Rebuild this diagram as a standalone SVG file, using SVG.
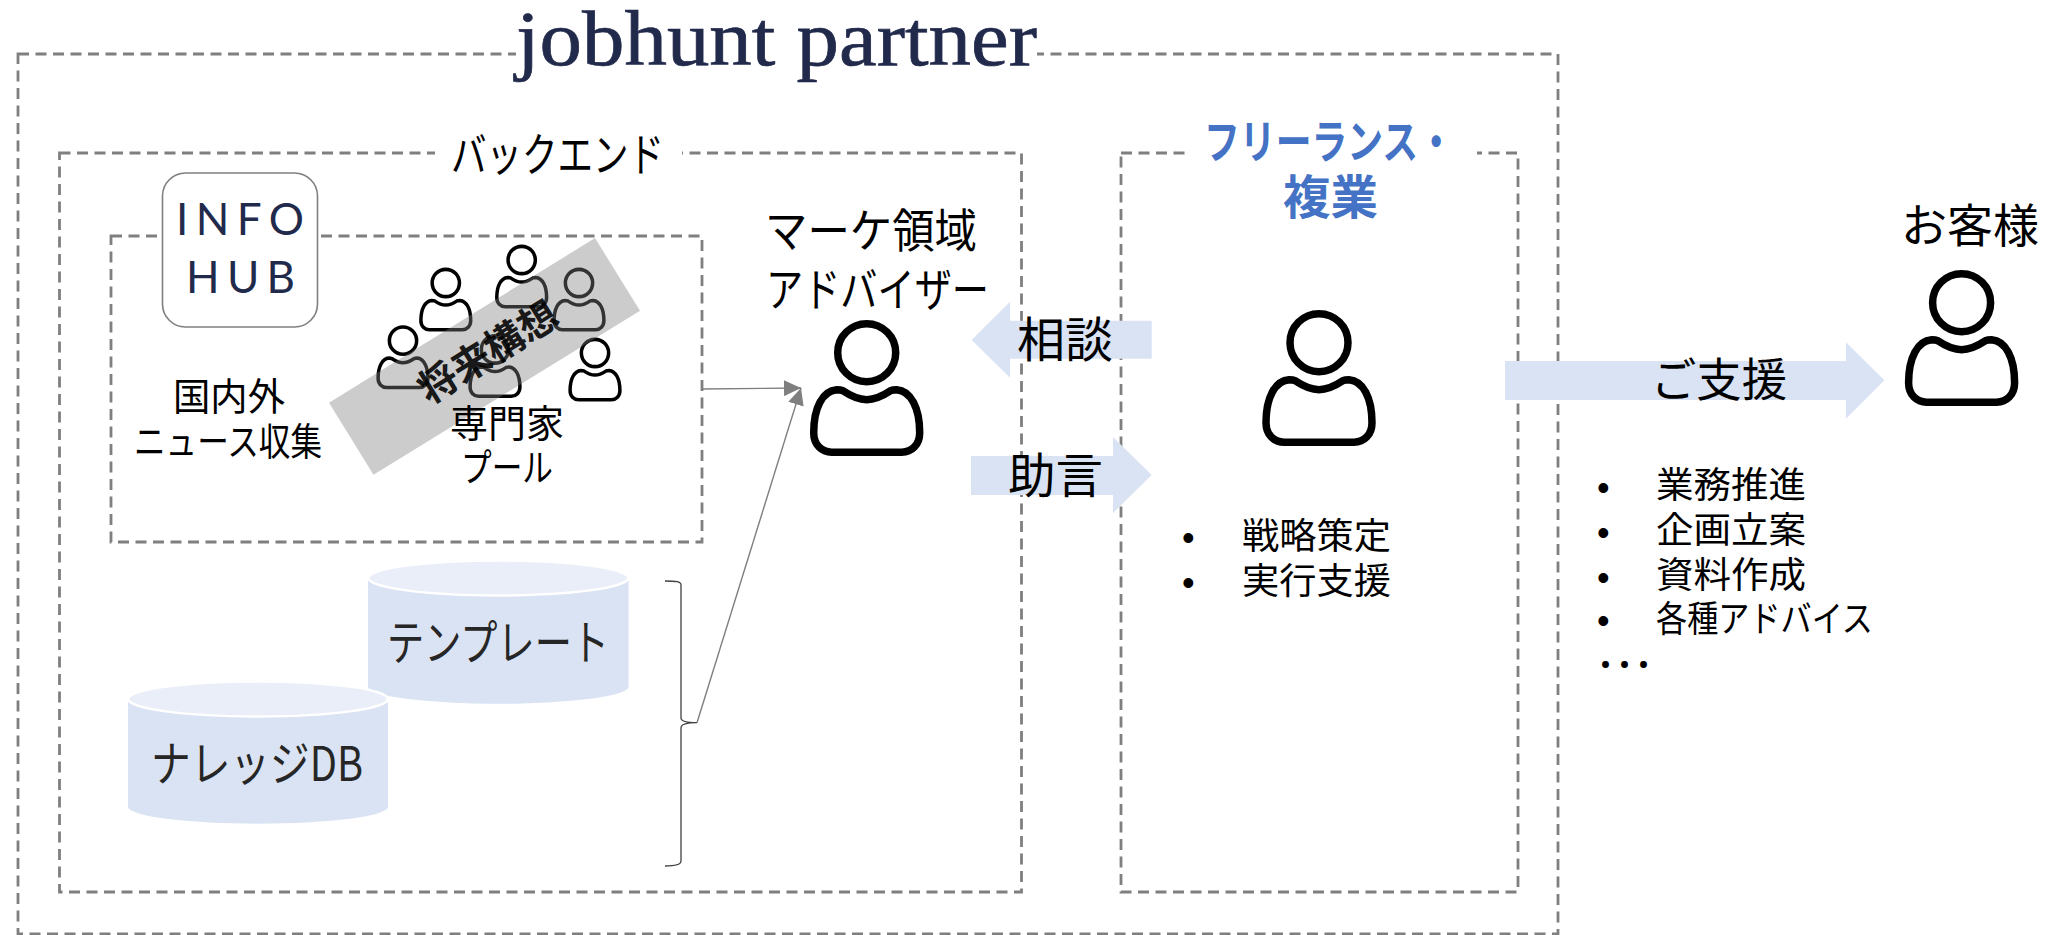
<svg xmlns="http://www.w3.org/2000/svg" width="2056" height="935" viewBox="0 0 2056 935">
<style>
text{font-family:"Noto Sans CJK JP","Noto Sans",sans-serif;fill:#000}
.dash{fill:none;stroke:#7f7f7f;stroke-width:2.8;stroke-dasharray:11 6.5}
.blk{fill:#fff}
.band{fill:#dae3f3}
.cap{fill:#e9eef8;stroke:#fff;stroke-width:2.5}
.body{fill:#dae3f3}
.conn{fill:none;stroke:#7f7f7f;stroke-width:1.4}
.brace{fill:none;stroke:#404040;stroke-width:1.3}
.pf{fill:none;stroke:#000;stroke-width:7.5;stroke-linejoin:round}
.l36{font-size:36px}
.l38{font-size:38px}
.l46{font-size:46px}
.l48{font-size:48px}
.navy{fill:#222a4c}
.sans{font-family:"Liberation Sans",sans-serif}
</style>
<defs>
<marker id="ah" markerUnits="userSpaceOnUse" markerWidth="18" markerHeight="16" refX="17" refY="8" orient="auto"><path d="M0 0L17 8L0 16Z" fill="#7f7f7f"/></marker>
<g id="person"><circle cx="0" cy="0" r="29" class="pf"/><path class="pf" d="M0 47C-10 47-18 42-24 38C-26 37-28 37-30 37C-44 38-53 55-53 80C-53 92-45 99.5-35 99.5L35 99.5C45 99.5 53 92 53 80C53 55 44 38 30 37C28 37 26 37 24 38C18 42 10 47 0 47Z"/></g>
</defs>
<rect width="2056" height="935" fill="#fff"/>

<g id="frame-outer"><rect class="dash" x="18" y="54" width="1540" height="880"/><rect class="blk" x="516" y="40" width="521" height="30"/>
<text x="516" y="65" font-size="78" textLength="521" lengthAdjust="spacingAndGlyphs" class="navy" stroke="#222a4c" stroke-width=".7" style="font-family:'Liberation Serif',serif">jobhunt partner</text></g>

<g id="frame-backend"><rect class="dash" x="59.500" y="153" width="962" height="739"/><rect class="blk" x="435" y="140" width="247" height="26"/>
<text x="451" y="171" class="l46" textLength="213" lengthAdjust="spacingAndGlyphs">バックエンド</text></g>

<g id="frame-freelance"><rect class="dash" x="1121" y="153" width="397" height="739"/><rect class="blk" x="1187" y="140" width="290" height="26"/>
<text x="1204" y="158" class="l46" font-weight="700" style="fill:#4472c4" textLength="250" lengthAdjust="spacingAndGlyphs">フリーランス・</text>
<text x="1283" y="214" font-size="47" font-weight="700" style="fill:#4472c4" textLength="95" lengthAdjust="spacingAndGlyphs">複業</text></g>

<g id="news"><rect class="dash" x="111" y="236" width="591" height="306"/>
<text x="173" y="410" class="l38" textLength="112" lengthAdjust="spacingAndGlyphs">国内外</text>
<text x="134" y="455" class="l38" textLength="188" lengthAdjust="spacingAndGlyphs">ニュース収集</text></g>

<g id="infohub"><rect x="162.500" y="173" width="155" height="154" rx="23" fill="#fff" stroke="#7f7f7f" stroke-width="1.6"/>
<text x="176" y="235" font-size="44" class="navy" textLength="128" lengthAdjust="spacing" style="font-family:Lato,sans-serif">INFO</text>
<text x="186" y="293" font-size="44" class="navy" textLength="109" lengthAdjust="spacing" style="font-family:Lato,sans-serif">HUB</text></g>

<g id="experts">
<use href="#person" transform="translate(445.800 283) scale(.47)"/>
<use href="#person" transform="translate(521.700 260) scale(.47)"/>
<use href="#person" transform="translate(579 283) scale(.47)"/>
<use href="#person" transform="translate(403 340.700) scale(.47)"/>
<use href="#person" transform="translate(495 349.500) scale(.47)"/>
<use href="#person" transform="translate(595 353) scale(.47)"/>
</g>

<g id="future"><polygon points="595,238 640,310.700 373.500,474.700 329,402.700" fill="#7f7f7f" fill-opacity=".4"/>
<text x="488" y="366" font-size="39" font-weight="700" text-anchor="middle" fill-opacity=".88" transform="rotate(-31.800 488 352)">将来構想</text></g>

<g id="experts-label">
<text x="450" y="437" class="l38" textLength="114" lengthAdjust="spacingAndGlyphs">専門家</text>
<text x="461" y="481" class="l38" textLength="92" lengthAdjust="spacingAndGlyphs">プール</text>
</g>

<g id="db-template"><path class="body" d="M368 578V686.700A130 17 0 0 0 628.600 686.700V578Z"/><ellipse class="cap" cx="498.300" cy="578" rx="130" ry="17.500"/>
<text x="387" y="660" class="l48" style="fill:#262626" textLength="222" lengthAdjust="spacingAndGlyphs">テンプレート</text></g>
<g id="db-knowledge"><path class="body" d="M128 699V806.700A130 17 0 0 0 388 806.700V699Z"/><ellipse class="cap" cx="258" cy="699" rx="130" ry="17.500"/>
<text x="151" y="781" class="l48" style="fill:#262626" textLength="212" lengthAdjust="spacingAndGlyphs">ナレッジDB</text></g>

<g id="connectors">
<path class="brace" d="M665 581C676 581 681 581.500 681 585V718C681 721.500 686 722.700 697 722.700C686 722.700 681 724 681 728V861C681 864.500 676 866 665 866"/>
<line class="conn" x1="702" y1="389" x2="801" y2="388" marker-end="url(#ah)"/>
<line class="conn" x1="697" y1="722.700" x2="801" y2="388" marker-end="url(#ah)"/>
</g>

<g id="adviser"><text x="765" y="247" class="l46" textLength="212" lengthAdjust="spacingAndGlyphs">マーケ領域</text>
<text x="766" y="306" class="l46" textLength="223" lengthAdjust="spacingAndGlyphs">アドバイザー</text>
<use href="#person" x="866.700" y="352.700"/></g>

<g id="arrow-soudan"><polygon class="band" points="971.700,340 1010,301.700 1010,320.700 1151.700,320.700 1151.700,358.700 1010,358.700 1010,377.700"/>
<text x="1017" y="357" font-size="48" textLength="96" lengthAdjust="spacingAndGlyphs">相談</text></g>
<g id="arrow-jogen"><polygon class="band" points="971,456 1113,456 1113,437 1151.700,475 1113,513 1113,495 971,495"/>
<text x="1008" y="493" font-size="48" textLength="95" lengthAdjust="spacingAndGlyphs">助言</text></g>

<g id="freelancer"><use href="#person" x="1319" y="342.700"/>
<text x="1182" y="550" class="l36 sans">•</text><text x="1242" y="549" class="l36" textLength="149" lengthAdjust="spacingAndGlyphs">戦略策定</text>
<text x="1182" y="595" class="l36 sans">•</text><text x="1242" y="594" class="l36" textLength="149" lengthAdjust="spacingAndGlyphs">実行支援</text></g>

<g id="arrow-goshien"><polygon class="band" points="1505,361 1846,361 1846,342.300 1884.400,380.300 1846,418.700 1846,400 1505,400"/>
<text x="1651" y="396" font-size="46" textLength="136" lengthAdjust="spacingAndGlyphs">ご支援</text></g>

<g id="customer"><text x="1901" y="242" font-size="46" textLength="138" lengthAdjust="spacingAndGlyphs">お客様</text>
<use href="#person" x="1961.600" y="302.700"/></g>

<g id="support-list">
<text x="1597" y="500" class="l36 sans">•</text><text x="1656" y="498" class="l36" textLength="150" lengthAdjust="spacingAndGlyphs">業務推進</text>
<text x="1597" y="545" class="l36 sans">•</text><text x="1656" y="543" class="l36" textLength="150" lengthAdjust="spacingAndGlyphs">企画立案</text>
<text x="1597" y="590" class="l36 sans">•</text><text x="1656" y="588" class="l36" textLength="150" lengthAdjust="spacingAndGlyphs">資料作成</text>
<text x="1597" y="633" class="l36 sans">•</text><text x="1656" y="632" class="l36" textLength="217" lengthAdjust="spacingAndGlyphs">各種アドバイス</text>
<text x="1596" y="672" font-size="19" font-weight="700" stroke="#000" stroke-width="2">・・・</text>
</g>
</svg>
